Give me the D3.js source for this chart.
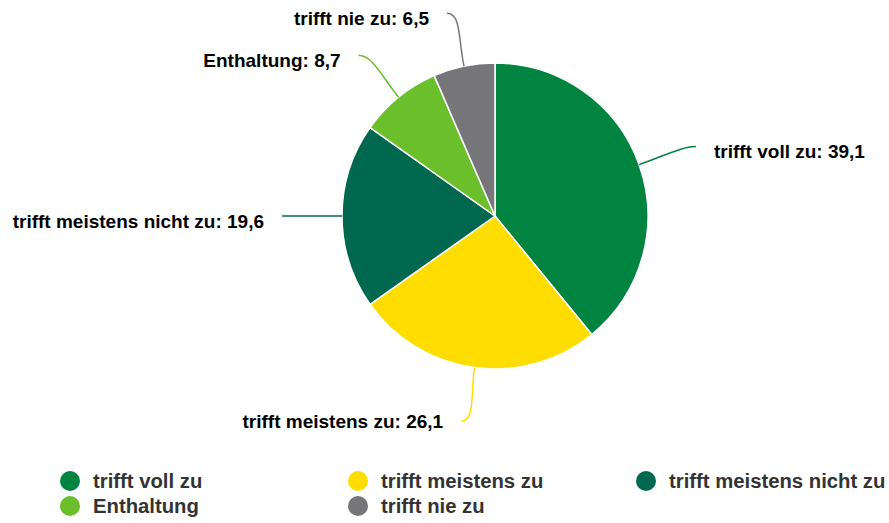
<!DOCTYPE html>
<html>
<head>
<meta charset="utf-8">
<script src="https://cdn.jsdelivr.net/npm/d3@7/dist/d3.min.js"></script>
<style>
  html, body { margin: 0; padding: 0; background: #fff; }
  svg { display: block; font-family: "Liberation Sans", Arial, sans-serif; }
</style>
</head>
<body>
<svg id="chart" width="889" height="523"></svg>
<script>
// Answer categories and their shares (percent)
const categories = ["trifft voll zu", "trifft meistens zu", "trifft meistens nicht zu", "Enthaltung", "trifft nie zu"];
const values = [39.1, 26.1, 19.6, 8.7, 6.5];
const colors = ["#00843f", "#ffdd00", "#00684f", "#6abf2a", "#767678"];
// Legend order (two rows, three columns)
const legendOrder = ["trifft voll zu", "trifft meistens zu", "trifft meistens nicht zu", "Enthaltung", "trifft nie zu"];

const W = 889, H = 523;
const cx = 495, cy = 216, R = 153;
const fmt = v => String(v).replace(".", ",");

const svg = d3.select("#chart");
const color = d3.scaleOrdinal().domain(categories).range(colors);

const data = categories.map((c, i) => ({ name: c, value: values[i] }));
const pie = d3.pie().sort(null).value(d => d.value).startAngle(0).endAngle(2 * Math.PI);
const arcs = pie(data);
const arc = d3.arc().innerRadius(0).outerRadius(R);

const g = svg.append("g").attr("transform", `translate(${cx},${cy})`);

g.selectAll("path.slice")
  .data(arcs)
  .join("path")
  .attr("class", "slice")
  .attr("d", arc)
  .attr("fill", d => color(d.data.name))
  .attr("stroke", "#fff")
  .attr("stroke-width", 1.5)
  .attr("stroke-linejoin", "round");

// point at radius r along angle a (0 = 12 o'clock, clockwise)
const polar = (r, a) => [r * Math.sin(a), -r * Math.cos(a)];

// data labels with curved connectors
arcs.forEach(d => {
  const mid = (d.startAngle + d.endAngle) / 2;
  const side = Math.sin(mid) >= 0 ? 1 : -1;
  const s = polar(R, mid);
  const c1 = polar(R + 28, mid);
  const e0 = polar(R + 54, mid);
  const e = [e0[0] + side * 6, e0[1]];
  const c2 = [e[0] - side * 14, e[1]];
  const p = d3.path();
  p.moveTo(s[0], s[1]);
  p.bezierCurveTo(c1[0], c1[1], c2[0], c2[1], e[0], e[1]);
  g.append("path")
    .attr("d", p.toString())
    .attr("fill", "none")
    .attr("stroke", color(d.data.name))
    .attr("stroke-width", 1.5);
  const lift = 5 * (1 - Math.max(0, -Math.cos(mid)));
  g.append("text")
    .attr("x", e[0] + side * 18)
    .attr("y", e[1] + lift)
    .attr("dy", "0.35em")
    .attr("text-anchor", side > 0 ? "start" : "end")
    .attr("font-size", 19)
    .attr("font-weight", "bold")
    .attr("fill", "#000")
    .text(`${d.data.name}: ${fmt(d.data.value)}`);
});

// legend
const colX = [70, 358, 646];
const rowY = [481, 506];
const lg = svg.append("g");
legendOrder.forEach((name, i) => {
  const x = colX[i % 3], y = rowY[Math.floor(i / 3)];
  lg.append("circle").attr("cx", x).attr("cy", y).attr("r", 10).attr("fill", color(name));
  lg.append("text")
    .attr("x", x + 23)
    .attr("y", y)
    .attr("dy", "0.36em")
    .attr("font-size", 20.3)
    .attr("font-weight", "bold")
    .attr("fill", "#333")
    .text(name);
});
</script>
</body>
</html>
